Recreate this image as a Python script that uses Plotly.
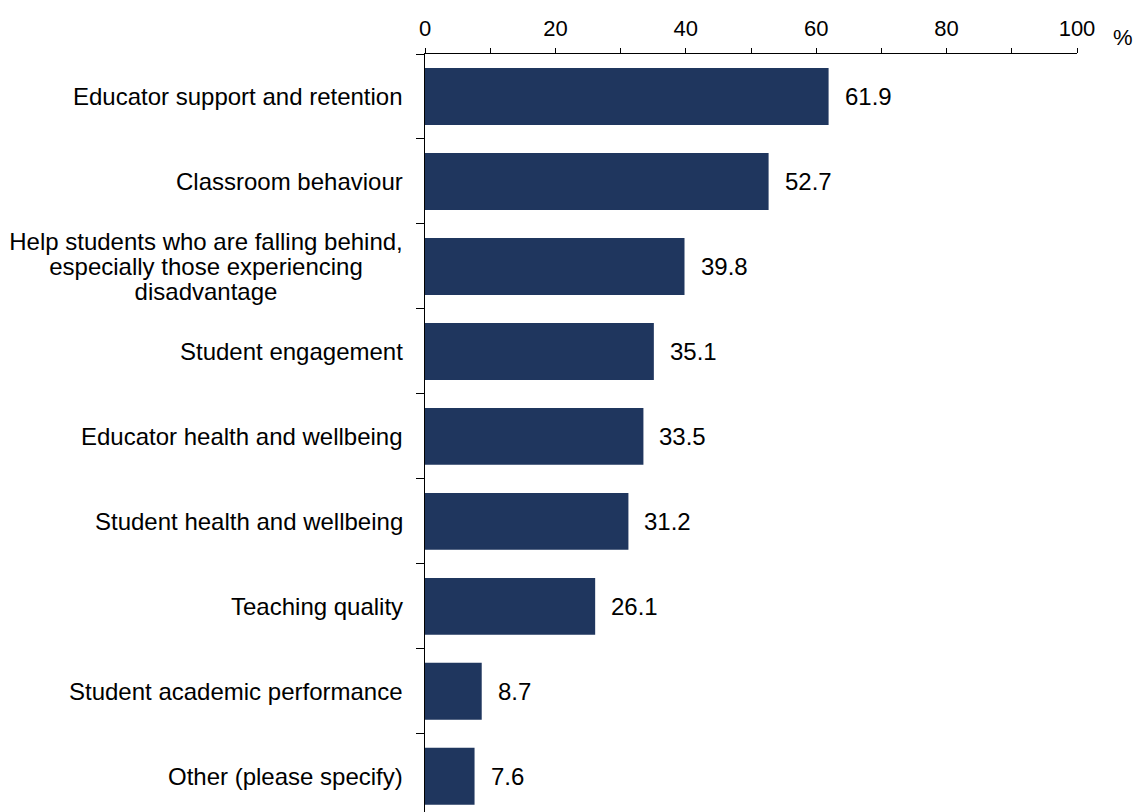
import plotly.graph_objects as go

# Survey responses: share of respondents (%) choosing each priority area
categories = [
    "Educator support and retention",
    "Classroom behaviour",
    "Help students who are falling behind,<br>especially those experiencing<br>disadvantage",
    "Student engagement",
    "Educator health and wellbeing",
    "Student health and wellbeing",
    "Teaching quality",
    "Student academic performance",
    "Other (please specify)",
]
values = [61.9, 52.7, 39.8, 35.1, 33.5, 31.2, 26.1, 8.7, 7.6]
x_ticks = [0, 20, 40, 60, 80, 100]

BAR_COLOR = "#1f365e"
FONT = "Liberation Sans, Arial, sans-serif"
LABEL_SIZE = 24
LINE_STEP = 25      # px between lines of a wrapped category label
LABEL_BOX = 394     # px width of the box that wrapped lines are centred in

fig = go.Figure(
    go.Bar(
        x=values,
        y=categories,
        orientation="h",
        marker=dict(color=BAR_COLOR, line=dict(width=0)),
        hoverinfo="skip",
    )
)

annotations = []
# Value labels just past the end of each bar
for cat, val in zip(categories, values):
    annotations.append(dict(
        x=val, y=cat, xref="x", yref="y",
        text=f"{val:.1f}", showarrow=False,
        xanchor="left", yanchor="middle", xshift=14,
        font=dict(family=FONT, size=LABEL_SIZE, color="black"),
    ))
# Category labels; wrapped ones are drawn line by line, centred, with tight spacing
for cat in categories:
    lines = cat.split("<br>")
    n = len(lines)
    for i, line in enumerate(lines):
        ann = dict(
            x=0, y=cat, xref="paper", yref="y",
            text=line, showarrow=False,
            xanchor="right", yanchor="middle", xshift=-20,
            yshift=((n - 1) / 2 - i) * LINE_STEP,
            font=dict(family=FONT, size=LABEL_SIZE, color="black"),
        )
        if n > 1:
            ann.update(width=LABEL_BOX, align="center")
        annotations.append(ann)
# Unit label beside the top axis
annotations.append(dict(
    x=1, y=1, xref="paper", yref="paper", text="%", showarrow=False,
    xanchor="center", yanchor="middle", xshift=46, yshift=17,
    font=dict(family=FONT, size=22, color="black"),
))

fig.update_layout(
    width=1136, height=812,
    margin=dict(l=425, r=59, t=54, b=0, pad=0),
    paper_bgcolor="white", plot_bgcolor="white",
    bargap=0.33,
    showlegend=False,
    font=dict(family=FONT, size=22, color="black"),
    annotations=annotations,
    xaxis=dict(
        side="top", range=[0, 100],
        tickvals=x_ticks, ticktext=[str(t) for t in x_ticks],
        ticks="outside", ticklen=5, tickcolor="black", tickwidth=1,
        ticklabelstandoff=3,
        minor=dict(dtick=10, tick0=0, ticks="outside", ticklen=5,
                   tickcolor="black", showgrid=False),
        showline=True, linecolor="black", linewidth=1,
        showgrid=False, zeroline=False,
        tickfont=dict(family=FONT, size=22, color="black"),
    ),
    yaxis=dict(
        type="category", range=[8.42, -0.5],
        showticklabels=False,
        ticks="outside", tickson="boundaries", ticklen=8,
        tickcolor="black", tickwidth=1,
        showline=True, linecolor="black", linewidth=1,
        showgrid=False, zeroline=False,
    ),
)

fig.write_html("out.html")
